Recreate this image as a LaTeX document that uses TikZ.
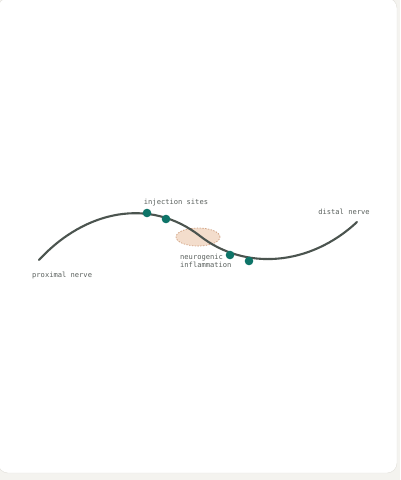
\documentclass[tikz,border=0pt]{standalone}
\usepackage{fontspec}
\setmonofont{DejaVu Sans Mono}
\usepackage{tikz}
\usetikzlibrary{
	positioning,
	shapes.geometric
}

\definecolor{pagebg}{HTML}{F4F3EF}
\definecolor{cardline}{HTML}{E2E0DA}
\definecolor{nervecol}{HTML}{4B544F}
\definecolor{sitecol}{HTML}{0E7468}
\definecolor{inflfill}{HTML}{F3DDCC}
\definecolor{inflline}{HTML}{CF9E7E}
\definecolor{labelcol}{HTML}{5A605D}

\tikzset{
	nerve/.style={draw=nervecol,line width=2.1pt,line cap=round},
	site/.style={circle,fill=sitecol,inner sep=0pt,minimum size=8.6pt},
	inflam/.style={ellipse,draw=inflline,dash pattern=on 1.4pt off 1.4pt,fill=inflfill,
		line width=0.7pt,minimum width=44pt,minimum height=18pt,inner sep=0pt},
	tag/.style={font=\ttfamily\fontsize{7.1}{8.3}\selectfont,text=labelcol,inner sep=0pt}
}

\begin{document}
\begin{tikzpicture}[x=1pt,y=-1pt]
		\useasboundingbox (0,0) rectangle (400,480);
		\fill[pagebg] (0,0) rectangle (400,480);
		\draw[cardline,fill=white,rounded corners=10pt] (-2,-2) rectangle (397,473);

		\node[inflam] (infl) at (198,237) {};

		\coordinate (prox) at (39,260);
		\coordinate (mid)  at (200,236);
		\coordinate (dist) at (357,222);
		\draw[nerve] (prox) .. controls (85,210) and (150,197) .. (mid)
			.. controls (245,271) and (310,266) .. (dist);

		\draw
			node[site] (s1) at (147,213) {}
			node[site] (s2) at (166,219) {}
			node[site] (s3) at (230,255) {}
			node[site] (s4) at (249,261) {}

			node[tag] (sites)  at (176,203) {injection sites}
			node[tag] (distal) at (344,212) {distal nerve}
			node[tag,anchor=west] (proximal) at (32,275.5) {proximal nerve}
			node[tag,align=left,anchor=north west] (neuro) at (180,254) {neurogenic\\inflammation}
		;
	\end{tikzpicture}
\end{document}
